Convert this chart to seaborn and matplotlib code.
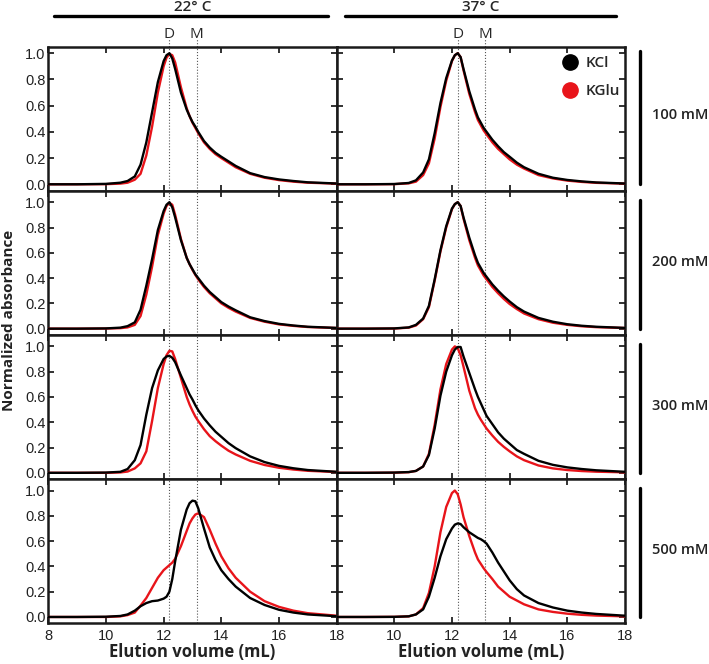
import numpy as np
import pandas as pd
import matplotlib
matplotlib.use("Agg")
import matplotlib.pyplot as plt
import matplotlib.transforms as mtransforms
from matplotlib.lines import Line2D
import seaborn as sns

sns.set_style("ticks")
plt.rcParams['font.family'] = ['Liberation Sans', 'DejaVu Sans']

# 용출 부피 (mL)
volume = [8, 9, 10, 10.5, 10.75, 11, 11.2, 11.4, 11.6, 11.8, 12.0, 12.1, 12.2, 12.3, 12.4,
          12.6, 12.8, 12.9, 13.0, 13.1, 13.2, 13.4, 13.6, 13.8, 14.0, 14.25, 14.5,
          15.0, 15.5, 16.0, 16.5, 17.0, 18.0]

temps = ["22° C", "37° C"]
concs = ["100 mM", "200 mM", "300 mM", "500 mM"]
salts = ["KCl", "KGlu"]

# 22 C
kcl_22_100 = [0, 0, 0.003, 0.012, 0.025, 0.06, 0.15, 0.32, 0.55, 0.78, 0.94, 0.985, 1.0, 0.96, 0.88,
              0.70, 0.57, 0.52, 0.475, 0.44, 0.40, 0.33, 0.28, 0.24, 0.21, 0.175, 0.14,
              0.085, 0.055, 0.037, 0.025, 0.015, 0.006]
kglu_22_100 = [0, 0, 0.001, 0.005, 0.012, 0.035, 0.08, 0.22, 0.44, 0.70, 0.90, 0.965, 0.995, 0.985, 0.93,
               0.74, 0.58, 0.52, 0.47, 0.43, 0.39, 0.32, 0.27, 0.23, 0.20, 0.165, 0.13,
               0.08, 0.05, 0.032, 0.02, 0.012, 0.005]
kcl_22_200 = [0, 0, 0.002, 0.008, 0.02, 0.05, 0.15, 0.34, 0.55, 0.78, 0.93, 0.98, 1.0, 0.96, 0.88,
              0.70, 0.56, 0.51, 0.47, 0.43, 0.40, 0.34, 0.29, 0.25, 0.21, 0.175, 0.145,
              0.09, 0.06, 0.038, 0.025, 0.015, 0.006]
kglu_22_200 = [0, 0, 0.001, 0.004, 0.01, 0.03, 0.10, 0.27, 0.49, 0.74, 0.91, 0.97, 0.995, 0.98, 0.90,
               0.71, 0.56, 0.51, 0.465, 0.425, 0.39, 0.33, 0.28, 0.24, 0.20, 0.165, 0.135,
               0.085, 0.055, 0.034, 0.022, 0.013, 0.005]
kcl_22_300 = [0, 0, 0.002, 0.008, 0.03, 0.10, 0.22, 0.46, 0.67, 0.81, 0.90, 0.92, 0.925, 0.91, 0.875,
              0.77, 0.67, 0.62, 0.58, 0.535, 0.495, 0.43, 0.375, 0.325, 0.285, 0.235, 0.195,
              0.13, 0.085, 0.055, 0.036, 0.022, 0.008]
kglu_22_300 = [0, 0, 0, 0.003, 0.01, 0.035, 0.075, 0.17, 0.41, 0.67, 0.86, 0.93, 0.965, 0.96, 0.90,
               0.75, 0.60, 0.54, 0.49, 0.445, 0.41, 0.345, 0.29, 0.25, 0.215, 0.175, 0.145,
               0.095, 0.062, 0.04, 0.026, 0.016, 0.006]
kcl_22_500 = [0, 0, 0.002, 0.008, 0.02, 0.05, 0.085, 0.11, 0.125, 0.13, 0.145, 0.16, 0.20, 0.30, 0.44,
              0.69, 0.85, 0.90, 0.92, 0.915, 0.86, 0.70, 0.55, 0.45, 0.37, 0.30, 0.24,
              0.15, 0.095, 0.057, 0.035, 0.02, 0.006]
kglu_22_500 = [0, 0, 0, 0.005, 0.015, 0.035, 0.09, 0.15, 0.23, 0.31, 0.37, 0.39, 0.41, 0.43, 0.46,
               0.56, 0.68, 0.74, 0.78, 0.81, 0.82, 0.79, 0.69, 0.58, 0.48, 0.385, 0.31,
               0.20, 0.125, 0.08, 0.05, 0.03, 0.01]

# 37 C
kcl_37_100 = [0, 0, 0.002, 0.01, 0.03, 0.09, 0.19, 0.39, 0.62, 0.81, 0.945, 0.985, 1.0, 0.97, 0.88,
              0.71, 0.57, 0.51, 0.47, 0.43, 0.40, 0.34, 0.29, 0.245, 0.21, 0.165, 0.13,
              0.08, 0.05, 0.033, 0.022, 0.014, 0.006]
kglu_37_100 = [0, 0, 0.001, 0.007, 0.02, 0.07, 0.16, 0.35, 0.59, 0.79, 0.94, 0.985, 1.0, 0.97, 0.87,
               0.69, 0.55, 0.49, 0.45, 0.41, 0.38, 0.32, 0.27, 0.23, 0.19, 0.15, 0.12,
               0.07, 0.045, 0.028, 0.018, 0.011, 0.005]
kcl_37_200 = [0, 0, 0.002, 0.01, 0.03, 0.08, 0.18, 0.39, 0.62, 0.81, 0.95, 0.985, 1.0, 0.97, 0.88,
              0.72, 0.58, 0.52, 0.48, 0.44, 0.41, 0.35, 0.30, 0.255, 0.215, 0.17, 0.135,
              0.085, 0.055, 0.035, 0.023, 0.015, 0.006]
kglu_37_200 = [0, 0, 0.001, 0.008, 0.025, 0.075, 0.17, 0.38, 0.61, 0.80, 0.945, 0.985, 1.0, 0.97, 0.87,
               0.70, 0.56, 0.50, 0.46, 0.42, 0.39, 0.33, 0.28, 0.235, 0.195, 0.155, 0.12,
               0.075, 0.047, 0.03, 0.019, 0.012, 0.005]
kcl_37_300 = [0, 0, 0.002, 0.006, 0.015, 0.05, 0.14, 0.35, 0.61, 0.80, 0.93, 0.975, 0.995, 0.995, 0.92,
              0.79, 0.66, 0.60, 0.55, 0.50, 0.45, 0.385, 0.32, 0.27, 0.23, 0.18, 0.15,
              0.095, 0.063, 0.043, 0.03, 0.02, 0.008]
kglu_37_300 = [0, 0, 0.001, 0.005, 0.015, 0.05, 0.15, 0.38, 0.66, 0.86, 0.975, 1.0, 0.985, 0.93, 0.84,
               0.65, 0.51, 0.46, 0.42, 0.385, 0.35, 0.295, 0.245, 0.205, 0.17, 0.13, 0.10,
               0.058, 0.035, 0.022, 0.014, 0.009, 0.004]
kcl_37_500 = [0, 0, 0.001, 0.005, 0.02, 0.06, 0.16, 0.31, 0.48, 0.615, 0.70, 0.73, 0.74, 0.735, 0.71,
              0.67, 0.64, 0.625, 0.615, 0.60, 0.58, 0.51, 0.43, 0.36, 0.29, 0.22, 0.17,
              0.11, 0.075, 0.05, 0.035, 0.024, 0.01]
kglu_37_500 = [0, 0, 0.001, 0.005, 0.02, 0.07, 0.19, 0.40, 0.67, 0.87, 0.98, 1.0, 0.97, 0.89, 0.79,
               0.64, 0.51, 0.455, 0.42, 0.385, 0.355, 0.30, 0.24, 0.20, 0.16, 0.13, 0.10,
               0.06, 0.04, 0.026, 0.017, 0.011, 0.005]

curves = {
    ("22° C", "100 mM"): (kcl_22_100, kglu_22_100),
    ("22° C", "200 mM"): (kcl_22_200, kglu_22_200),
    ("22° C", "300 mM"): (kcl_22_300, kglu_22_300),
    ("22° C", "500 mM"): (kcl_22_500, kglu_22_500),
    ("37° C", "100 mM"): (kcl_37_100, kglu_37_100),
    ("37° C", "200 mM"): (kcl_37_200, kglu_37_200),
    ("37° C", "300 mM"): (kcl_37_300, kglu_37_300),
    ("37° C", "500 mM"): (kcl_37_500, kglu_37_500),
}

# long-form table
rows = []
for (t, c), pair in curves.items():
    for s, vals in zip(salts, pair):
        for v, a in zip(volume, vals):
            rows.append({"temp": t, "conc": c, "salt": s, "volume": v, "abs": a})
df = pd.DataFrame(rows)

palette = {"KCl": "black", "KGlu": "#e8141a"}
d_pos, m_pos = 12.2, 13.15
label_font = ["Open Sans", "DejaVu Sans"]

fig, axs = plt.subplots(4, 2, figsize=(7.09, 6.64), dpi=100, sharex=False)
fig.subplots_adjust(left=0.0681, right=0.8815, top=0.9297, bottom=0.0613, hspace=0, wspace=0)

for j, t in enumerate(temps):
    for i, c in enumerate(concs):
        ax = axs[i, j]
        sub = df[(df.temp == t) & (df.conc == c)]
        for s in salts:
            sns.lineplot(data=sub[sub.salt == s], x="volume", y="abs", color=palette[s],
                         lw=1.7, ax=ax, legend=False, zorder=3 if s == "KGlu" else 4)
        ax.set_xlim(8, 18)
        if i == 0:
            ax.set_ylim(-0.05, 1.05)
        else:
            ax.set_ylim(-0.05, 1.09)
        top_ext = 1.05 if i == 0 else 1.0
        for xv in (d_pos, m_pos):
            ax.axvline(xv, ymin=0, ymax=top_ext, color="#555555", ls=":", lw=0.8,
                       clip_on=False, zorder=1)
        ax.set_yticks([0, 0.2, 0.4, 0.6, 0.8, 1.0])
        ax.set_yticklabels(["0.0", "0.2", "0.4", "0.6", "0.8", "1.0"])
        ax.set_xticks([8, 10, 12, 14, 16, 18])
        if j == 1:
            ax.set_xticklabels(["", "10", "12", "14", "16", "18"])
        ax.tick_params(direction="in", length=4, width=1.3, top=True, right=True,
                       labelsize=10.5, colors="#222222")
        ax.tick_params(axis="y", pad=2)
        ax.tick_params(axis="x", pad=4)
        ax.tick_params(labelleft=(j == 0), labelbottom=(i == 3))
        for sp in ax.spines.values():
            sp.set_linewidth(1.8)
            sp.set_color("#1a1a1a")
        ax.set_ylabel("")
        if i == 3:
            ax.set_xlabel("Elution volume (mL)", fontsize=12, fontweight="bold",
                          family=label_font, labelpad=0, color="#222222")
        else:
            ax.set_xlabel("")

        if j == 1:
            trans = mtransforms.blended_transform_factory(ax.transAxes, ax.transData)
            ax.add_line(Line2D([1.052, 1.052], [0, 1.02], transform=trans, color="black",
                               lw=2.4, clip_on=False))
            ax.text(1.094, 0.53, c, transform=trans, ha="left", va="center",
                    fontsize=10.5, fontweight="semibold", family=label_font,
                    color="#222222")

        if i == 0:
            dtrans = mtransforms.blended_transform_factory(ax.transData, ax.transAxes)
            ax.text(d_pos, 1.085, "D", transform=dtrans, ha="center", va="center",
                    fontsize=11, family=label_font)
            ax.text(m_pos, 1.085, "M", transform=dtrans, ha="center", va="center",
                    fontsize=11, family=label_font)

# 온도 헤더
for j, t in enumerate(temps):
    ax = axs[0, j]
    x0, x1 = (0.02, 0.97) if j == 0 else (0.03, 0.97)
    ax.add_line(Line2D([x0, x1], [1.213, 1.213], transform=ax.transAxes, color="black",
                       lw=2.4, clip_on=False))
    ax.text(0.5, 1.275, t, transform=ax.transAxes, ha="center", va="center", fontsize=11,
            fontweight="semibold", family=label_font)

# legend
handles = [Line2D([], [], marker="o", ls="", color=palette[s], markersize=11, label=s) for s in salts]
axs[0, 1].legend(handles=handles, loc="upper left", bbox_to_anchor=(0.735, 0.975), frameon=False,
                 handletextpad=0.05, labelspacing=0.9, borderaxespad=0,
                 prop={"family": label_font, "weight": "semibold", "size": 11})

fig.text(0.013, 0.517, "Normalized absorbance", rotation=90, ha="center", va="center",
         fontsize=11, fontweight="bold", family=label_font, color="#222222")

fig.savefig("out.png", dpi=100)
